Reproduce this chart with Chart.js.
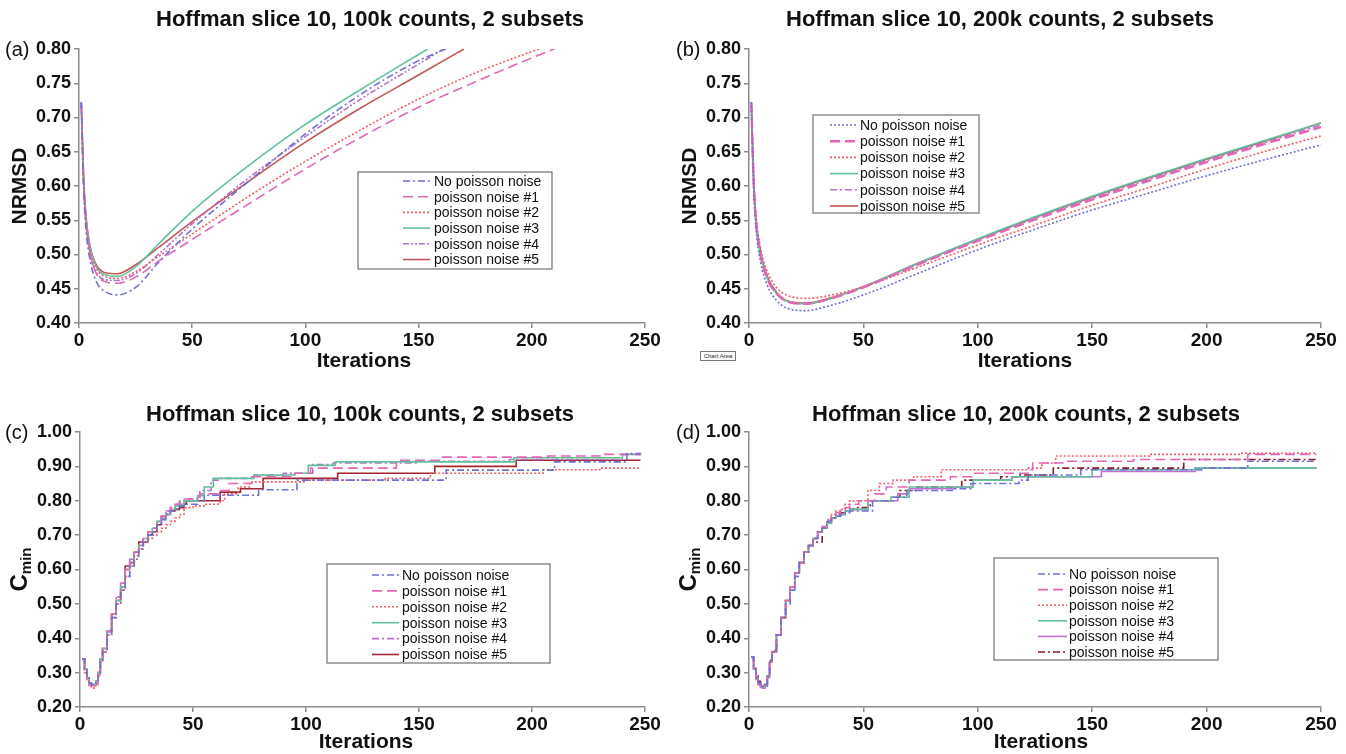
<!DOCTYPE html>
<html>
<head>
<meta charset="utf-8">
<title>Hoffman slice 10 - NRMSD and Cmin</title>
<script src="https://cdn.jsdelivr.net/npm/chart.js@4.4.1/dist/chart.umd.min.js"></script>
<style>
  body { margin: 0; background: #fff; width: 1346px; height: 754px; overflow: hidden; position: relative; }
  canvas.panel { position: absolute; }
  #chartAreaTip { position: absolute; left: 700px; top: 351px; width: 34px; height: 8px; border: 1px solid #777;
    font: 6px "Liberation Sans", Arial, sans-serif; line-height: 8px; text-align: center; color: #333; background: #fafafa; }
</style>
</head>
<body>
<canvas id="chartA" class="panel" width="673" height="377" style="left:0px;top:0px"></canvas>
<canvas id="chartB" class="panel" width="673" height="377" style="left:673px;top:0px"></canvas>
<canvas id="chartC" class="panel" width="673" height="377" style="left:0px;top:377px"></canvas>
<canvas id="chartD" class="panel" width="673" height="377" style="left:673px;top:377px"></canvas>
<div id="chartAreaTip">Chart Area</div>
<script>
// series names (same order in every panel)
const seriesNames = ['No poisson noise', 'poisson noise #1', 'poisson noise #2', 'poisson noise #3', 'poisson noise #4', 'poisson noise #5'];

// ---- (a) NRMSD, 100k counts
const aNoneIters = [1, 2, 3, 5, 8, 12, 17, 25, 35, 50, 75, 100, 125, 150, 162];
const aNoneVals = [0.722, 0.60, 0.54, 0.49, 0.458, 0.445, 0.441, 0.452, 0.488, 0.537, 0.607, 0.676, 0.735, 0.783, 0.80];
const a1Iters = [1, 2, 3, 5, 8, 12, 17, 25, 35, 50, 75, 100, 125, 150, 175, 200, 210];
const a1Vals = [0.722, 0.61, 0.55, 0.50, 0.47, 0.46, 0.458, 0.467, 0.49, 0.522, 0.574, 0.625, 0.672, 0.715, 0.752, 0.787, 0.80];
const a2Iters = [1, 2, 3, 5, 8, 12, 17, 25, 35, 50, 75, 100, 125, 150, 175, 203];
const a2Vals = [0.722, 0.61, 0.555, 0.505, 0.478, 0.467, 0.465, 0.475, 0.497, 0.53, 0.585, 0.636, 0.683, 0.727, 0.765, 0.80];
const a3Iters = [1, 2, 3, 5, 8, 12, 17, 25, 35, 50, 75, 100, 125, 154];
const a3Vals = [0.722, 0.61, 0.555, 0.51, 0.48, 0.47, 0.468, 0.482, 0.515, 0.563, 0.63, 0.69, 0.742, 0.80];
const a4Iters = [1, 2, 3, 5, 8, 12, 17, 25, 35, 50, 75, 100, 125, 150, 161];
const a4Vals = [0.722, 0.61, 0.55, 0.50, 0.472, 0.463, 0.462, 0.472, 0.50, 0.545, 0.612, 0.672, 0.728, 0.778, 0.80];
const a5Iters = [1, 2, 3, 5, 8, 12, 17, 25, 35, 50, 75, 100, 125, 150, 170];
const a5Vals = [0.722, 0.62, 0.56, 0.51, 0.483, 0.473, 0.472, 0.485, 0.51, 0.548, 0.607, 0.664, 0.715, 0.762, 0.80];

// ---- (b) NRMSD, 200k counts
const bIters = [1, 2, 3, 5, 8, 12, 17, 25, 35, 50, 75, 100, 125, 150, 175, 200, 225, 250];
const bNoneVals = [0.722, 0.60, 0.54, 0.49, 0.455, 0.433, 0.421, 0.418, 0.425, 0.441, 0.474, 0.507, 0.537, 0.565, 0.59, 0.615, 0.638, 0.660];
const b1Vals = [0.722, 0.61, 0.55, 0.50, 0.465, 0.443, 0.431, 0.428, 0.435, 0.452, 0.487, 0.52, 0.551, 0.58, 0.608, 0.635, 0.661, 0.686];
const b2Vals = [0.722, 0.615, 0.56, 0.51, 0.475, 0.452, 0.440, 0.436, 0.44, 0.453, 0.483, 0.514, 0.543, 0.572, 0.598, 0.625, 0.65, 0.673];
const b3Vals = [0.722, 0.61, 0.55, 0.50, 0.465, 0.443, 0.431, 0.428, 0.435, 0.453, 0.489, 0.523, 0.555, 0.585, 0.613, 0.64, 0.666, 0.692];
const b4Vals = [0.722, 0.61, 0.55, 0.50, 0.465, 0.443, 0.431, 0.428, 0.435, 0.452, 0.487, 0.521, 0.553, 0.582, 0.61, 0.637, 0.663, 0.689];
const b5Vals = [0.722, 0.615, 0.555, 0.505, 0.468, 0.445, 0.432, 0.429, 0.436, 0.453, 0.489, 0.522, 0.554, 0.584, 0.612, 0.639, 0.665, 0.692];

// ---- (c) and (d) Cmin: dense start, then the steps
const earlyIters = [1, 2, 3, 4, 5, 6, 7, 8, 9, 10, 12, 14, 16, 18, 20, 22, 24, 26, 28, 30, 32, 34, 36, 38, 40, 42, 44, 46];

const cNoneIters = earlyIters.concat([48, 52, 55, 79, 96, 162, 210, 242, 248]);
const cNoneVals = [0.34, 0.31, 0.285, 0.27, 0.265, 0.265, 0.27, 0.29, 0.33, 0.36, 0.41, 0.46, 0.50, 0.54, 0.58, 0.61, 0.63, 0.66, 0.68, 0.70, 0.71, 0.73, 0.745, 0.76, 0.77, 0.775, 0.785, 0.79,
  0.79, 0.80, 0.816, 0.832, 0.86, 0.889, 0.913, 0.937, 0.937];
const c1Iters = earlyIters.concat([50, 53, 62, 66, 76, 95, 102, 140, 160, 207, 230, 248]);
const c1Vals = [0.34, 0.31, 0.285, 0.27, 0.262, 0.262, 0.27, 0.30, 0.34, 0.37, 0.42, 0.47, 0.52, 0.56, 0.60, 0.62, 0.65, 0.67, 0.69, 0.71, 0.72, 0.74, 0.755, 0.77, 0.78, 0.79, 0.80, 0.805,
  0.81, 0.82, 0.83, 0.85, 0.87, 0.88, 0.895, 0.918, 0.927, 0.93, 0.935, 0.935];
const c2Iters = earlyIters.concat([50, 55, 62, 64, 70, 75, 100, 135, 155, 205, 230, 248]);
const c2Vals = [0.34, 0.30, 0.275, 0.262, 0.255, 0.255, 0.262, 0.29, 0.33, 0.36, 0.41, 0.46, 0.50, 0.54, 0.58, 0.61, 0.64, 0.66, 0.68, 0.69, 0.70, 0.71, 0.72, 0.73, 0.74, 0.75, 0.76, 0.78,
  0.785, 0.79, 0.80, 0.82, 0.84, 0.855, 0.86, 0.865, 0.88, 0.89, 0.895, 0.895];
const c3Iters = earlyIters.concat([48, 52, 55, 59, 77, 95, 101, 113, 192, 240, 248]);
const c3Vals = [0.34, 0.31, 0.285, 0.27, 0.265, 0.265, 0.275, 0.30, 0.34, 0.37, 0.42, 0.47, 0.51, 0.55, 0.60, 0.62, 0.65, 0.67, 0.69, 0.71, 0.72, 0.74, 0.75, 0.76, 0.775, 0.785, 0.79, 0.80,
  0.80, 0.815, 0.84, 0.865, 0.875, 0.88, 0.903, 0.913, 0.925, 0.935, 0.94];
const c4Iters = earlyIters.concat([48, 53, 58, 62, 77, 90, 103, 112, 150, 190, 240, 248]);
const c4Vals = [0.34, 0.31, 0.285, 0.27, 0.265, 0.265, 0.275, 0.30, 0.34, 0.37, 0.42, 0.47, 0.52, 0.56, 0.60, 0.63, 0.65, 0.67, 0.69, 0.71, 0.72, 0.74, 0.755, 0.77, 0.78, 0.79, 0.795, 0.80,
  0.805, 0.83, 0.86, 0.865, 0.875, 0.88, 0.905, 0.91, 0.915, 0.92, 0.935, 0.935];
const c5Iters = earlyIters.concat([47, 62, 71, 81, 114, 157, 193, 248]);
const c5Vals = [0.34, 0.31, 0.285, 0.27, 0.265, 0.265, 0.275, 0.30, 0.34, 0.37, 0.42, 0.47, 0.51, 0.55, 0.61, 0.62, 0.65, 0.68, 0.68, 0.70, 0.71, 0.73, 0.755, 0.76, 0.77, 0.775, 0.78, 0.79,
  0.80, 0.825, 0.835, 0.865, 0.88, 0.90, 0.918, 0.918];

const dNoneIters = earlyIters.concat([48, 54, 63, 69, 90, 97, 118, 122, 145, 198, 218, 248]);
const dNoneVals = [0.345, 0.31, 0.285, 0.27, 0.262, 0.26, 0.265, 0.29, 0.33, 0.36, 0.41, 0.46, 0.50, 0.54, 0.58, 0.62, 0.65, 0.67, 0.69, 0.71, 0.72, 0.74, 0.75, 0.755, 0.76, 0.765, 0.77, 0.77,
  0.77, 0.80, 0.81, 0.83, 0.835, 0.85, 0.86, 0.875, 0.89, 0.895, 0.915, 0.915];
const d1Iters = earlyIters.concat([48, 55, 60, 70, 88, 98, 122, 124, 138, 168, 218, 248]);
const d1Vals = [0.345, 0.31, 0.285, 0.27, 0.262, 0.26, 0.265, 0.29, 0.33, 0.36, 0.41, 0.46, 0.51, 0.55, 0.59, 0.62, 0.65, 0.67, 0.69, 0.71, 0.725, 0.74, 0.755, 0.765, 0.775, 0.78, 0.79, 0.79,
  0.80, 0.82, 0.84, 0.86, 0.87, 0.88, 0.89, 0.91, 0.915, 0.92, 0.935, 0.935];
const d2Iters = earlyIters.concat([48, 52, 57, 63, 72, 84, 122, 128, 134, 175, 215, 248]);
const d2Vals = [0.345, 0.31, 0.285, 0.27, 0.262, 0.26, 0.265, 0.29, 0.33, 0.36, 0.41, 0.46, 0.51, 0.55, 0.59, 0.62, 0.65, 0.67, 0.69, 0.71, 0.725, 0.745, 0.76, 0.77, 0.775, 0.79, 0.80, 0.80,
  0.80, 0.83, 0.85, 0.86, 0.87, 0.89, 0.895, 0.91, 0.93, 0.935, 0.938, 0.938];
const d3Iters = earlyIters.concat([52, 62, 70, 98, 115, 150, 195, 248]);
const d3Vals = [0.345, 0.31, 0.285, 0.27, 0.262, 0.258, 0.265, 0.29, 0.33, 0.36, 0.41, 0.46, 0.51, 0.55, 0.59, 0.62, 0.65, 0.67, 0.69, 0.71, 0.72, 0.735, 0.75, 0.755, 0.76, 0.77, 0.775, 0.775,
  0.80, 0.81, 0.84, 0.86, 0.87, 0.89, 0.895, 0.895];
const d4Iters = earlyIters.concat([52, 65, 70, 90, 98, 115, 154, 195, 248]);
const d4Vals = [0.345, 0.31, 0.28, 0.265, 0.257, 0.255, 0.26, 0.285, 0.33, 0.36, 0.41, 0.46, 0.51, 0.55, 0.59, 0.62, 0.65, 0.67, 0.69, 0.71, 0.72, 0.735, 0.75, 0.755, 0.76, 0.77, 0.775, 0.775,
  0.80, 0.82, 0.835, 0.84, 0.86, 0.87, 0.885, 0.895, 0.895];
const d5Iters = earlyIters.concat([53, 62, 66, 73, 93, 110, 118, 133, 190, 248]);
const d5Vals = [0.345, 0.315, 0.29, 0.275, 0.268, 0.265, 0.27, 0.295, 0.335, 0.365, 0.41, 0.46, 0.51, 0.55, 0.59, 0.62, 0.65, 0.67, 0.68, 0.68, 0.72, 0.735, 0.75, 0.76, 0.765, 0.77, 0.775, 0.78,
  0.80, 0.81, 0.83, 0.84, 0.86, 0.87, 0.875, 0.895, 0.92, 0.92];

// line looks
const BLUE = '#6d70d4', PINK = '#e566b6', SALMON = '#ef5d67', GREEN = '#62c09e', PURPLE = '#b570c9', RED = '#c75454';
const DASHDOT = [7, 3, 2, 3], DASHED = [10, 5], DOTTED = [2, 2], DASHDOTDOT = [6, 2, 2, 2, 2, 2], SOLID = [];

const FONT = '"Liberation Sans", Arial, Helvetica, sans-serif';

function pts(iters, vals) {
  return iters.map((x, i) => ({ x: x, y: vals[i] }));
}

function line(name, iters, vals, color, dash, width) {
  return {
    label: name,
    data: pts(iters, vals),
    borderColor: color,
    borderDash: dash,
    borderWidth: width || 1.6,
    pointRadius: 0,
    fill: false
  };
}

// titles, panel letter, axis titles and the boxed legend inside the plot
const panelDecor = {
  id: 'panelDecor',
  afterDraw(chart, args, o) {
    const ctx = chart.ctx;
    const area = chart.chartArea;
    ctx.save();
    ctx.fillStyle = '#111';
    ctx.textBaseline = 'middle';

    ctx.font = 'bold 22px ' + FONT;
    ctx.textAlign = 'center';
    ctx.fillText(o.title, o.titleX, o.titleY);

    ctx.font = '20px ' + FONT;
    ctx.textAlign = 'left';
    ctx.fillText(o.tag, o.tagX, area.top + 1);

    ctx.font = 'bold 21px ' + FONT;
    ctx.textAlign = 'center';
    ctx.fillText('Iterations', o.xTitleX, o.xTitleY);

    // rotated y title, optional subscript
    ctx.save();
    ctx.translate(o.yTitleX, (area.top + area.bottom) / 2);
    ctx.rotate(-Math.PI / 2);
    if (o.yTitleSub) {
      ctx.font = 'bold 24px ' + FONT;
      const w1 = ctx.measureText(o.yTitle).width;
      ctx.font = 'bold 15px ' + FONT;
      const w2 = ctx.measureText(o.yTitleSub).width;
      const start = -(w1 + w2) / 2;
      ctx.textAlign = 'left';
      ctx.font = 'bold 24px ' + FONT;
      ctx.fillText(o.yTitle, start, 0);
      ctx.font = 'bold 15px ' + FONT;
      ctx.fillText(o.yTitleSub, start + w1, 7);
    } else {
      ctx.font = 'bold 21px ' + FONT;
      ctx.fillText(o.yTitle, 0, 0);
    }
    ctx.restore();

    // legend box
    const lg = o.legend;
    ctx.strokeStyle = '#707070';
    ctx.lineWidth = 1.2;
    ctx.strokeRect(lg.x, lg.y, lg.w, lg.h);
    ctx.font = '14px ' + FONT;
    ctx.textAlign = 'left';
    chart.data.datasets.forEach((ds, i) => {
      const yy = lg.rowY + i * lg.rowStep;
      ctx.save();
      ctx.strokeStyle = ds.borderColor;
      ctx.lineWidth = ds.borderWidth;
      ctx.setLineDash(ds.borderDash);
      ctx.beginPath();
      ctx.moveTo(lg.sampleX1, yy);
      ctx.lineTo(lg.sampleX2, yy);
      ctx.stroke();
      ctx.restore();
      ctx.fillStyle = '#111';
      ctx.fillText(ds.label, lg.textX, yy + 1);
    });
    ctx.restore();
  }
};

// chart area pinned with padding + fixed axis sizes
function makeChart(id, datasets, yMin, yMax, yStep, area, decor, stepped) {
  const canvas = document.getElementById(id);
  const W = canvas.width, H = canvas.height;
  const axisLook = {
    grid: { display: true, drawOnChartArea: false, drawTicks: true, tickLength: 5, color: '#8c8c8c', lineWidth: 1.5 },
    border: { display: true, color: '#8c8c8c', width: 1.5 }
  };
  return new Chart(canvas, {
    type: 'line',
    data: { datasets: datasets },
    plugins: [panelDecor],
    options: {
      responsive: false,
      animation: false,
      events: [],
      layout: { padding: { left: 0, top: area.top, right: W - area.right, bottom: 0 } },
      elements: {
        line: stepped ? { stepped: true, tension: 0 } : { tension: 0.4, cubicInterpolationMode: 'monotone' }
      },
      scales: {
        x: Object.assign({
          type: 'linear', min: 0, max: 250,
          ticks: { stepSize: 50, padding: 1, color: '#111', font: { family: FONT, size: 19, weight: 'bold' } },
          afterFit: s => { s.height = H - area.bottom; }
        }, axisLook),
        y: Object.assign({
          min: yMin, max: yMax,
          ticks: { stepSize: yStep, padding: 3, color: '#111', font: { family: FONT, size: 18, weight: 'bold' },
            callback: v => v.toFixed(2) },
          afterFit: s => { s.width = area.left; }
        }, axisLook)
      },
      plugins: {
        legend: { display: false },
        tooltip: { enabled: false },
        panelDecor: decor
      }
    }
  });
}

document.addEventListener('DOMContentLoaded', () => {

  // (a)
  makeChart('chartA', [
    line(seriesNames[0], aNoneIters, aNoneVals, BLUE, DASHDOT),
    line(seriesNames[1], a1Iters, a1Vals, PINK, DASHED),
    line(seriesNames[2], a2Iters, a2Vals, SALMON, DOTTED),
    line(seriesNames[3], a3Iters, a3Vals, GREEN, SOLID),
    line(seriesNames[4], a4Iters, a4Vals, PURPLE, DASHDOTDOT),
    line(seriesNames[5], a5Iters, a5Vals, RED, SOLID)
  ], 0.40, 0.80, 0.05, { left: 79, right: 645, top: 49, bottom: 323 }, {
    title: 'Hoffman slice 10, 100k counts, 2 subsets', titleX: 370, titleY: 20,
    tag: '(a)', tagX: 5, xTitleX: 364, xTitleY: 361, yTitle: 'NRMSD', yTitleX: 20,
    legend: { x: 358, y: 172, w: 194, h: 97, rowY: 181, rowStep: 15.7, sampleX1: 403, sampleX2: 430, textX: 434 }
  }, false);

  // (b)
  makeChart('chartB', [
    line(seriesNames[0], bIters, bNoneVals, BLUE, DOTTED),
    line(seriesNames[1], bIters, b1Vals, PINK, DASHED, 2.4),
    line(seriesNames[2], bIters, b2Vals, SALMON, DOTTED),
    line(seriesNames[3], bIters, b3Vals, GREEN, SOLID),
    line(seriesNames[4], bIters, b4Vals, PURPLE, DASHDOT),
    line(seriesNames[5], bIters, b5Vals, RED, SOLID)
  ], 0.40, 0.80, 0.05, { left: 76, right: 648, top: 49, bottom: 323 }, {
    title: 'Hoffman slice 10, 200k counts, 2 subsets', titleX: 327, titleY: 20,
    tag: '(b)', tagX: 3, xTitleX: 352, xTitleY: 361, yTitle: 'NRMSD', yTitleX: 17,
    legend: { x: 140, y: 115, w: 166, h: 98, rowY: 125, rowStep: 16.2, sampleX1: 157, sampleX2: 185, textX: 187 }
  }, false);

  // (c)
  makeChart('chartC', [
    line(seriesNames[0], cNoneIters, cNoneVals, BLUE, DASHDOT),
    line(seriesNames[1], c1Iters, c1Vals, PINK, DASHED),
    line(seriesNames[2], c2Iters, c2Vals, SALMON, DOTTED),
    line(seriesNames[3], c3Iters, c3Vals, GREEN, SOLID),
    line(seriesNames[4], c4Iters, c4Vals, PURPLE, DASHDOT),
    line(seriesNames[5], c5Iters, c5Vals, '#a3262e', SOLID)
  ], 0.20, 1.00, 0.10, { left: 80, right: 645, top: 55, bottom: 330 }, {
    title: 'Hoffman slice 10, 100k counts, 2 subsets', titleX: 360, titleY: 38,
    tag: '(c)', tagX: 5, xTitleX: 366, xTitleY: 365, yTitle: 'C', yTitleSub: 'min', yTitleX: 20,
    legend: { x: 327, y: 187, w: 223, h: 99, rowY: 198, rowStep: 15.9, sampleX1: 372, sampleX2: 399, textX: 402 }
  }, true);

  // (d)
  makeChart('chartD', [
    line(seriesNames[0], dNoneIters, dNoneVals, BLUE, DASHDOT),
    line(seriesNames[1], d1Iters, d1Vals, PINK, DASHED),
    line(seriesNames[2], d2Iters, d2Vals, SALMON, DOTTED),
    line(seriesNames[3], d3Iters, d3Vals, GREEN, SOLID),
    line(seriesNames[4], d4Iters, d4Vals, '#c46fcf', SOLID),
    line(seriesNames[5], d5Iters, d5Vals, '#8c1c2c', DASHDOT)
  ], 0.20, 1.00, 0.10, { left: 76, right: 648, top: 55, bottom: 330 }, {
    title: 'Hoffman slice 10, 200k counts, 2 subsets', titleX: 353, titleY: 38,
    tag: '(d)', tagX: 3, xTitleX: 368, xTitleY: 365, yTitle: 'C', yTitleSub: 'min', yTitleX: 16,
    legend: { x: 321, y: 181, w: 224, h: 102, rowY: 197, rowStep: 15.6, sampleX1: 365, sampleX2: 394, textX: 396 }
  }, true);

});
</script>
</body>
</html>
